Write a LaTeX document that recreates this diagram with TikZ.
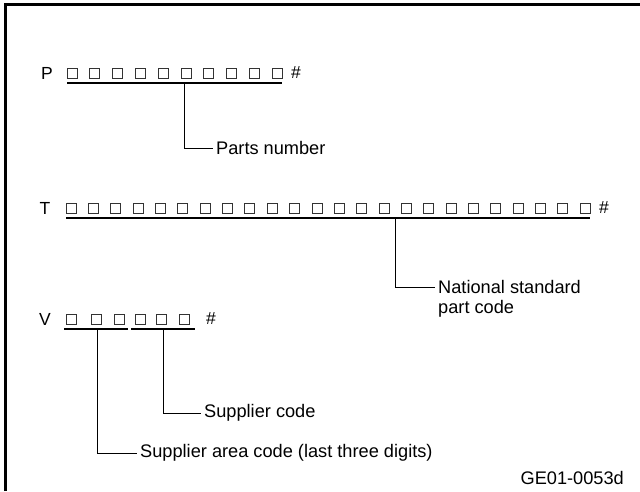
\documentclass[tikz,border=0pt]{standalone}
\usepackage{fontspec}
\setmainfont{Liberation Sans}

\tikzset{
    digit/.style = {draw = black!80, line width = 0.7pt, minimum size = 10pt, inner sep = 0pt},
    letter/.style = {font = \fontsize{17.5}{22}\selectfont, inner sep = 0pt},
    note/.style = {font = \fontsize{18.2}{22}\selectfont, anchor = west, inner xsep = 3pt, inner ysep = 0pt},
    bar/.style = {line width = 1.3pt},
    leader/.style = {line width = 0.9pt}
}

\begin{document}
\begin{tikzpicture}[x = 1pt, y = -1pt]
            \useasboundingbox (0,0) rectangle (640,491);
            \draw [line width = 3pt]
            (5,491) -- (5,4.5) -- (640,4.5)
            ;
            %% parts number row
            \node [letter] (pP) at (47,73) {P};
            \foreach \i in {1,...,10} {
                \node [digit] (p\i) at ({72 + (\i-1)*22.8},73) {};
            }
            \node [letter] (pHash) at (296,73) {\#};
            \draw [bar] (67,83) coordinate (pl) -- (282,83) coordinate (pr);
            \coordinate (pDrop) at (184,83);
            \node [note] (parts) at (213,148) {Parts number};
            \draw [leader] (pDrop) |- (parts.west);
            %% national standard row
            \node [letter] (tT) at (45,208) {T};
            \foreach \i in {1,...,24} {
                \node [digit] (t\i) at ({71 + (\i-1)*22.35},208) {};
            }
            \node [letter] (tHash) at (604,208) {\#};
            \draw [bar] (66,218) coordinate (tl) -- (590,218) coordinate (tr);
            \coordinate (tDrop) at (395,218);
            \node [note] (natl) at (435,287) {National standard};
            \node [note] (natlb) at (435,309) {part code};
            \draw [leader] (tDrop) |- (natl.west);
            %% supplier row
            \node [letter] (vV) at (45,319) {V};
            \foreach \x [count = \i] in {71.7,96.7,119,140.7,161.7,184.3} {
                \node [digit] (v\i) at (\x,319) {};
            }
            \node [letter] (vHash) at (211,319) {\#};
            \draw [bar] (64,329) -- (128,329);
            \draw [bar] (131,329) -- (195,329);
            \coordinate (vDropA) at (97,329);
            \coordinate (vDropB) at (163,329);
            \node [note] (supp) at (201,413) {Supplier code};
            \node [note] (area) at (137,453) {Supplier area code (last three digits)};
            \draw [leader] (vDropB) |- (supp.west);
            \draw [leader] (vDropA) |- (area.west);
            %% figure number
            \node [note, anchor = east, inner xsep = 0pt] (fig) at (624,478) {GE01-0053d};
        \end{tikzpicture}
\end{document}
